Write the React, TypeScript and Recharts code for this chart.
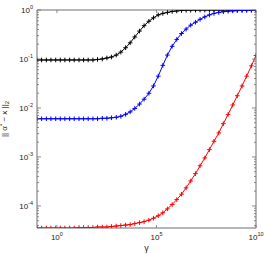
import React from 'react';
import { LineChart, Line, XAxis, YAxis } from 'recharts';

// log10(gamma) sample positions
const gammaExp = [
  -1, -0.77, -0.53, -0.3, -0.06, 0.17, 0.4, 0.64, 0.87, 1.11, 1.34, 1.57,
  1.81, 2.04, 2.28, 2.51, 2.74, 2.98, 3.21, 3.45, 3.68, 3.91, 4.15, 4.38,
  4.62, 4.85, 5.09, 5.32, 5.55, 5.79, 6.02, 6.26, 6.49, 6.72, 6.96, 7.19,
  7.43, 7.66, 7.89, 8.13, 8.36, 8.6, 8.83, 9.06, 9.3, 9.53, 9.77, 10,
];
// log10 of ||alpha* - x||_2 for each series
const blackExp = [
  -1.02, -1.02, -1.02, -1.02, -1.02, -1.02, -1.02, -1.02, -1.02, -1.02, -1.02, -1.02,
  -1.02, -1.01, -1.0, -0.98, -0.96, -0.92, -0.86, -0.77, -0.67, -0.55, -0.43, -0.32,
  -0.23, -0.16, -0.1, -0.07, -0.05, -0.03, -0.02, -0.01, -0.006, -0.004, -0.002, -0.001,
  -0.001, -0.001, -0.001, -0.001, -0.001, -0.001, -0.001, -0.001, -0.001, -0.001, -0.001, -0.001,
];
const blueExp = [
  -2.22, -2.22, -2.22, -2.22, -2.22, -2.22, -2.22, -2.22, -2.22, -2.22, -2.22, -2.22,
  -2.22, -2.22, -2.21, -2.21, -2.2, -2.19, -2.17, -2.13, -2.08, -2.01, -1.92, -1.82,
  -1.7, -1.55, -1.35, -1.13, -0.92, -0.74, -0.6, -0.48, -0.39, -0.31, -0.25, -0.19,
  -0.14, -0.1, -0.07, -0.05, -0.035, -0.025, -0.018, -0.012, -0.008, -0.005, -0.003, -0.002,
];
const redExp = [
  -4.45, -4.45, -4.45, -4.45, -4.45, -4.45, -4.45, -4.45, -4.45, -4.44, -4.44, -4.44,
  -4.44, -4.43, -4.43, -4.43, -4.42, -4.41, -4.4, -4.39, -4.38, -4.36, -4.34, -4.32,
  -4.29, -4.25, -4.2, -4.14, -4.06, -3.97, -3.87, -3.76, -3.63, -3.49, -3.34, -3.18,
  -3.02, -2.85, -2.68, -2.51, -2.32, -2.13, -1.94, -1.75, -1.55, -1.35, -1.14, -0.93,
];

const xTicks = [0, 5, 10];
const yMajorTicks = [0, -1, -2, -3, -4];
const yMinorFactors = [2, 3, 4, 5, 6, 7, 8, 9];
const yDomain: [number, number] = [-4.45, 0];
const xDomain: [number, number] = [-1, 10];

const yTicks = (() => {
  const t: number[] = [...yMajorTicks];
  for (let n = -5; n < 0; n++) {
    for (const k of yMinorFactors) {
      const v = n + Math.log10(k);
      if (v >= yDomain[0] && v <= yDomain[1]) t.push(v);
    }
  }
  return t.sort((a, b) => a - b);
})();

const data = gammaExp.map((x, i) => ({
  x,
  black: blackExp[i],
  blue: blueExp[i],
  red: redExp[i],
}));

const FONT = 'Liberation Sans, Arial, sans-serif';
const AXIS = '#6e6e6e';

const isMajor = (v: number) => Math.abs(v - Math.round(v)) < 1e-9;

const LeftTick = (props: any) => {
  const { x, y, payload } = props;
  const v = payload.value;
  const major = isMajor(v);
  return (
    <g>
      <line x1={x} x2={x + (major ? 4 : 2)} y1={y} y2={y} stroke={AXIS} strokeWidth={0.8} />
      {major && (
        <text x={x - 4} y={y + 3} textAnchor="end" fontSize={8} fontFamily={FONT} fill="#222">
          10<tspan dy={-4} fontSize={5.5}>{String(Math.round(v))}</tspan>
        </text>
      )}
    </g>
  );
};

const RightTick = (props: any) => {
  const { x, y, payload } = props;
  const major = isMajor(payload.value);
  return <line x1={x} x2={x - (major ? 4 : 2)} y1={y} y2={y} stroke={AXIS} strokeWidth={0.8} />;
};

const BottomTick = (props: any) => {
  const { x, y, payload } = props;
  return (
    <g>
      <line x1={x} x2={x} y1={y} y2={y - 3} stroke={AXIS} strokeWidth={0.8} />
      <text x={x} y={y + 12} textAnchor="middle" fontSize={8} fontFamily={FONT} fill="#222">
        10<tspan dy={-4} fontSize={5.5}>{String(payload.value)}</tspan>
      </text>
    </g>
  );
};

const TopTick = (props: any) => {
  const { x, y } = props;
  return <line x1={x} x2={x} y1={y} y2={y + 3} stroke={AXIS} strokeWidth={0.8} />;
};

const makePlus = (color: string) => (props: any) => {
  const { cx, cy, index } = props;
  if (cx == null || cy == null) return <g key={index} />;
  const a = 2.3;
  return (
    <g key={index}>
      <line x1={cx - a} x2={cx + a} y1={cy} y2={cy} stroke={color} strokeWidth={1} />
      <line x1={cx} x2={cx} y1={cy - a} y2={cy + a} stroke={color} strokeWidth={1} />
    </g>
  );
};

const YLabel = (props: any) => {
  const vb = props.viewBox || {};
  const cy = (vb.y ?? 10) + (vb.height ?? 218) / 2;
  const cx = 7;
  return (
    <text
      x={cx}
      y={cy}
      transform={`rotate(-90 ${cx} ${cy})`}
      textAnchor="middle"
      fontSize={8}
      fontFamily={FONT}
      fill="#222"
    >
      || α<tspan dy={-3} fontSize={6}>*</tspan>
      <tspan dy={3}> − x ||</tspan>
      <tspan dy={2} fontSize={6}>2</tspan>
    </text>
  );
};

export default function App() {
  return (
    <div style={{ position: 'absolute', left: 0, top: 0, background: '#fff' }}>
      <LineChart width={266} height={254} data={data} margin={{ top: 0, right: 0, bottom: 0, left: 0 }}>
        <XAxis
          xAxisId="b"
          type="number"
          dataKey="x"
          domain={xDomain}
          ticks={xTicks}
          interval={0}
          allowDataOverflow
          height={26}
          tickSize={0}
          tickMargin={0}
          tick={<BottomTick />}
          axisLine={{ stroke: AXIS }}
          tickLine={false}
          label={{ value: 'γ', position: 'insideBottom', offset: 3, fontSize: 9, fontFamily: FONT, fill: '#222' }}
        />
        <XAxis
          xAxisId="t"
          orientation="top"
          type="number"
          dataKey="x"
          domain={xDomain}
          ticks={xTicks}
          interval={0}
          allowDataOverflow
          height={10}
          tickSize={0}
          tickMargin={0}
          tick={<TopTick />}
          axisLine={{ stroke: AXIS }}
          tickLine={false}
        />
        <YAxis
          yAxisId="l"
          type="number"
          domain={yDomain}
          ticks={yTicks}
          interval={0}
          allowDataOverflow
          width={37}
          tickSize={0}
          tickMargin={0}
          tick={<LeftTick />}
          axisLine={{ stroke: AXIS }}
          tickLine={false}
          label={<YLabel />}
        />
        <YAxis
          yAxisId="r"
          orientation="right"
          type="number"
          domain={yDomain}
          ticks={yTicks}
          interval={0}
          allowDataOverflow
          width={10}
          tickSize={0}
          tickMargin={0}
          tick={<RightTick />}
          axisLine={{ stroke: AXIS }}
          tickLine={false}
        />
        <Line xAxisId="b" yAxisId="l" dataKey="black" stroke="#000000" strokeWidth={1} dot={makePlus('#000000')} isAnimationActive={false} />
        <Line xAxisId="b" yAxisId="l" dataKey="blue" stroke="#0000ff" strokeWidth={1} dot={makePlus('#0000ff')} isAnimationActive={false} />
        <Line xAxisId="t" yAxisId="r" dataKey="red" stroke="#ff0000" strokeWidth={1} dot={makePlus('#ff0000')} isAnimationActive={false} />
      </LineChart>
    </div>
  );
}
